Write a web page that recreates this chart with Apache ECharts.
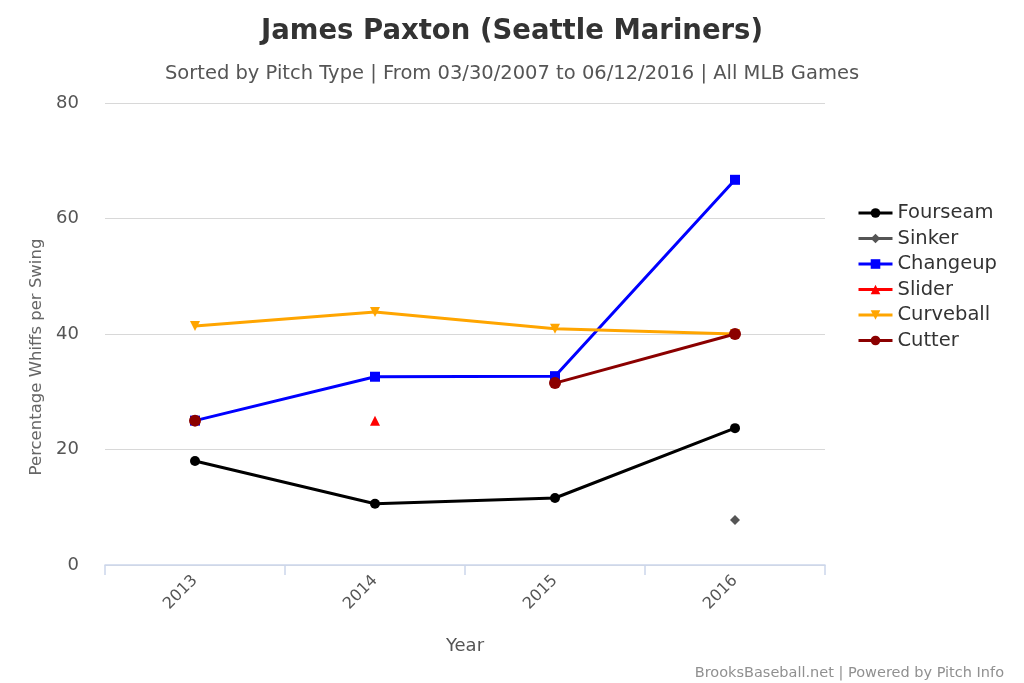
<!DOCTYPE html>
<html><head><meta charset="utf-8">
<script src="https://cdn.jsdelivr.net/npm/echarts@6/dist/echarts.min.js"></script>
<style>html,body{margin:0;padding:0;background:#fff}#c{width:1024px;height:683px}</style>
</head><body><div id="c"></div>
<script>
const years = ['2013','2014','2015','2016'];
const fourseam = [18.0, 10.6, 11.6, 23.7];
const sinker = [null, null, null, 7.8];
const changeup = [25.0, 32.6, 32.7, 66.7];
const slider = [null, 25.0, null, null];
const curveball = [41.4, 43.8, 40.9, 40.0];
const cutter = [25.0, null, 31.5, 40.0];
const yTicks = [0, 20, 40, 60, 80];

const FONT = '"DejaVu Sans", sans-serif';
function mk(name, data, color, symbol, size) {
  return {name, type:'line', data, connectNulls:false, symbol, symbolSize:size,
    lineStyle:{width:3,color}, itemStyle:{color}, z: 3};
}
const chart = echarts.init(document.getElementById('c'));
chart.setOption({
  animation:false,
  textStyle:{fontFamily:FONT},
  title:[{text:'James Paxton (Seattle Mariners)', left:'center', top:13,
    textStyle:{fontSize:27.5, fontWeight:'bold', color:'#333', fontFamily:FONT}},
    {text:'Sorted by Pitch Type | From 03/30/2007 to 06/12/2016 | All MLB Games', left:'center', top:59,
    textStyle:{fontSize:19.5, fontWeight:'normal', color:'#555', fontFamily:FONT}},
    {text:'BrooksBaseball.net | Powered by Pitch Info', right:15, top:661,
    textStyle:{fontSize:14.5, fontWeight:'normal', color:'#909090', fontFamily:FONT}}],
  legend:{orient:'vertical', left:852, top:198, itemGap:5.5, itemWidth:34, itemHeight:12,
    lineStyle:{width:3},
    textStyle:{fontSize:19.5, color:'#333', fontFamily:FONT}},
  grid:{left:105, right:199, top:103, bottom:118},
  xAxis:{type:'category', data:years, boundaryGap:true,
    name:'Year', nameLocation:'middle', nameGap:72,
    nameTextStyle:{fontSize:18, color:'#555'},
    axisLine:{lineStyle:{color:'#ccd6eb', width:1.5}},
    axisTick:{show:true, length:10, lineStyle:{color:'#ccd6eb', width:1.5}},
    axisLabel:{rotate:45, fontSize:16, color:'#555', margin:13}},
  yAxis:{type:'value', min:0, max:80, interval:20,
    name:'Percentage Whiffs per Swing', nameLocation:'middle', nameGap:60,
    nameTextStyle:{fontSize:16.5, color:'#666', padding:[0,46,0,0]},
    axisLine:{show:false}, axisTick:{show:false},
    axisLabel:{fontSize:18, color:'#555', margin:26, formatter:v=>yTicks.includes(v)?String(v):''},
    splitLine:{lineStyle:{color:'#d8d8d8', width:1}}},
  series:[
    mk('Fourseam', fourseam, '#000000', 'circle', 10),
    mk('Sinker', sinker, '#555555', 'diamond', 10),
    mk('Changeup', changeup, '#0000ff', 'rect', 10),
    mk('Slider', slider, '#ff0000', 'triangle', 10),
    mk('Curveball', curveball, '#ffa500', 'path://M0,0 L10,0 L5,10 Z', 10),
    mk('Cutter', cutter, '#8b0000', 'circle', 12)
  ]
});
</script></body></html>
